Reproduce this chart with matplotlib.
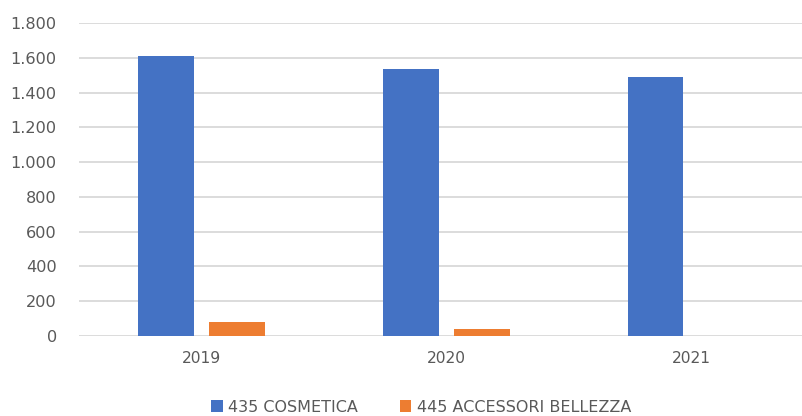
import matplotlib
matplotlib.use("Agg")
import matplotlib.pyplot as plt
from matplotlib.patches import Patch
from matplotlib.ticker import FuncFormatter

years = ["2019", "2020", "2021"]
cosmetica = [1613, 1538, 1490]
accessori = [78, 38, 0]
series_names = ["435 COSMETICA", "445 ACCESSORI BELLEZZA"]
y_ticks = [0, 200, 400, 600, 800, 1000, 1200, 1400, 1600, 1800]

BLUE = "#4472C4"
ORANGE = "#ED7D31"
GRID = "#D9D9D9"
TEXT = "#595959"

plt.rcParams["font.family"] = ["DejaVu Sans"]

fig = plt.figure(figsize=(8.03, 4.16), dpi=100)
ax = fig.add_axes([79 / 803, 1 - 335.7 / 416, 734.5 / 803, (335.7 - 23.3) / 416])

x = list(range(len(years)))
w = 0.227
off = 0.145
ax.bar([i - off for i in x], cosmetica, width=w, color=BLUE, zorder=3)
ax.bar([i + off for i in x], accessori, width=w, color=ORANGE, zorder=3)

ax.set_xlim(-0.5, len(years) - 0.5)
ax.set_ylim(0, 1800)
ax.set_yticks(y_ticks)
ax.yaxis.set_major_formatter(FuncFormatter(lambda v, p: f"{v:,.0f}".replace(",", ".")))
ax.set_xticks(x)
ax.set_xticklabels(years)

ax.grid(axis="y", color=GRID, linewidth=1.3, zorder=0)
ax.grid(axis="x", visible=False)
for s in ax.spines.values():
    s.set_visible(False)
ax.tick_params(axis="y", length=0, pad=16, labelsize=11.6, labelcolor=TEXT)
ax.tick_params(axis="x", length=0, pad=11, labelsize=11.2, labelcolor=TEXT)

handles = [Patch(facecolor=BLUE), Patch(facecolor=ORANGE)]
fig.legend(handles, series_names, loc="center", bbox_to_anchor=(421 / 803, 1 - 407 / 416),
           ncol=2, frameon=False, fontsize=11.5, labelcolor=TEXT,
           handlelength=0.75, handleheight=0.75, handletextpad=0.35,
           columnspacing=2.6, borderaxespad=0, borderpad=0)

fig.savefig("out.png", dpi=100)
